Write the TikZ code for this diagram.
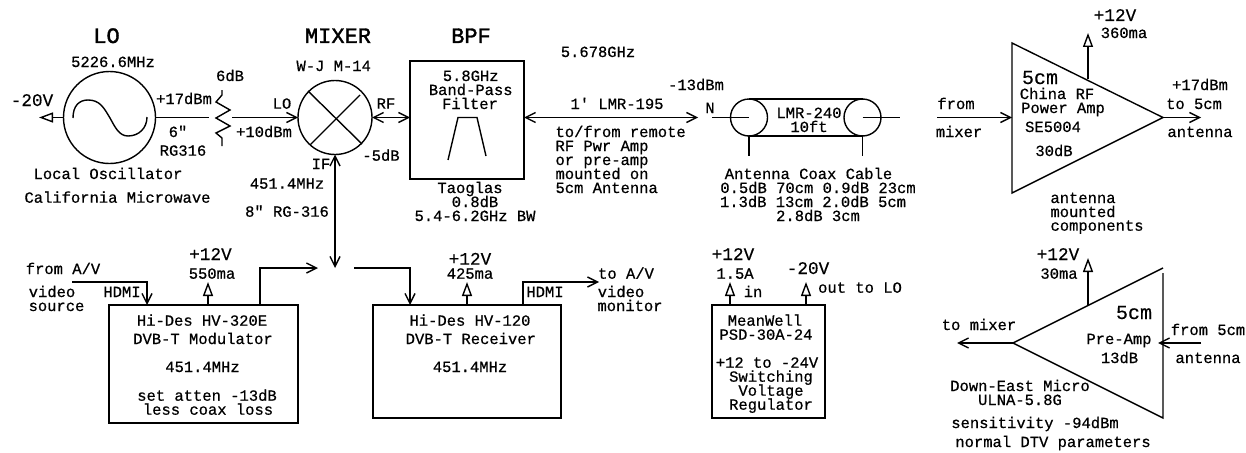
\documentclass[tikz,border=0pt]{standalone}
\usepackage{fontspec}
\usetikzlibrary{arrows.meta}
\newfontfamily\dia[FakeBold=0.6]{Liberation Mono}
\newfontfamily\diat[FakeBold=0.3]{Liberation Mono}
\newfontfamily\diab[FakeBold=1.5]{Liberation Mono}
\newcounter{tl}
\newcommand\lab[4][]{\stepcounter{tl}\node[txt,#1] (t\thetl) at (#2,#3) {#4};}
\tikzset{
  txt/.style={inner sep=0pt,outer sep=0pt,anchor=base,font=\dia\fontsize{15.5}{15.5}\selectfont},
  midtxt/.style={font=\diat\fontsize{17.7}{17.7}\selectfont},
  bigtxt/.style={font=\diat\fontsize{20}{20}\selectfont},
  headtxt/.style={font=\diab\fontsize{22}{22}\selectfont},
  lft/.style={anchor=base west},
  wire/.style={line width=1.4pt,black,line join=miter},
  circ/.style={circle,draw,line width=1.4pt,inner sep=0pt,outer sep=0pt},
  boxn/.style={rectangle,draw,line width=1.4pt,inner sep=0pt,outer sep=0pt},
  barb/.style={-{Straight Barb[length=10pt,width=10pt,line width=1.4pt]}},
  dbarb/.style={{Straight Barb[length=10pt,width=10pt,line width=1.4pt]}-{Straight Barb[length=10pt,width=10pt,line width=1.4pt]}},
  tri/.style={-{Triangle[open,length=14pt,width=10pt,line width=1.4pt]}}
}
\begin{document}
\begin{tikzpicture}[x=1pt,y=-1pt]
\useasboundingbox (0,0) rectangle (1246,452);
% blocks
\node[circ,minimum size=92pt] (lo) at (109.5,117.5) {};
\node[circ,minimum size=74pt] (mix) at (335,117.5) {};
\node[boxn,minimum width=114pt,minimum height=118pt] (bpf) at (467,120) {};
\node[circ,minimum size=37pt] (cl) at (749,117.5) {};
\node[circ,minimum size=37pt] (cr) at (862.5,117.5) {};
\node[boxn,minimum width=189pt,minimum height=118pt] (mod) at (203.5,364) {};
\node[boxn,minimum width=188pt,minimum height=113pt] (rx) at (467,361.5) {};
\node[boxn,minimum width=113pt,minimum height=113pt] (psu) at (768.5,361.5) {};
% free coordinates
\coordinate (lotip) at (39,117.5);
\coordinate (rl) at (209,117.5);
\coordinate (rr) at (232,117.5);
\coordinate (fwdend) at (698,117.5);
\coordinate (nend) at (712,117.5);
\coordinate (smaend) at (900,117.5);
\coordinate (clstub) at (749,156);
\coordinate (crstub) at (862.5,156);
\coordinate (ampin) at (937,117.5);
\coordinate (ampl) at (1012,117.5);
\coordinate (ampt) at (1012,43);
\coordinate (ampb) at (1012,193);
\coordinate (ampr) at (1163,117.5);
\coordinate (ampout) at (1201,117.5);
\coordinate (amppwrb) at (1088,79);
\coordinate (amppwr) at (1088,33);
\coordinate (prl) at (1013,343);
\coordinate (prt) at (1163,268);
\coordinate (prtv) at (1163,273);
\coordinate (prb) at (1163,418);
\coordinate (prout) at (957,343);
\coordinate (prin) at (1201,343);
\coordinate (prtip) at (1158,343);
\coordinate (prpwrb) at (1088,305);
\coordinate (prpwr) at (1088,258);
\coordinate (ifend) at (335,268);
\coordinate (modoutend) at (318,268);
\coordinate (rxinstart) at (354,268);
\coordinate (hdmis) at (72,282);
% resistor
\draw[wire] (222,90) -- (222,95) -- (216,102) -- (230,110) -- (216,118) -- (230,126) -- (216,133) -- (222,138) -- (222,146);
% sine
\draw[wire] (73,118) .. controls (73,106) and (79,100) .. (88,100) .. controls (100,100) and (104,108) .. (110,118) .. controls (115,127) and (119,136) .. (128,136) .. controls (139,136) and (147,128) .. (147,117);
% mixer cross
\draw[wire] (308,91) -- (362,144);
\draw[wire] (360,95) -- (310,145);
% filter curve
\draw[wire] (448,160) -- (458,117.5) -- (477,117.5) -- (486,156);
% connectors
\draw[wire,tri] (lo.west) -- (lotip);
\draw[wire] (lo.east) -- (rl);
\draw[wire,barb] (rr) -- (mix.west);
\draw[wire,dbarb] (mix.east) -- (bpf.west |- mix.east);
\draw[wire,dbarb] (bpf.east |- mix.east) -- (fwdend);
\draw[wire] (nend) -- (cl.center);
\draw[wire] (cl.south) -- (clstub);
\draw[wire] (cl.north) -- (cr.north);
\draw[wire] (cl.south) -- (cr.south);
\draw[wire] (cr.center) -- (smaend);
\draw[wire] (cr.south) -- (crstub);
% power amp
\draw[wire] (ampl) -- (ampt) -- (ampr) -- (ampb) -- cycle;
\draw[wire,barb] (ampin) -- (ampl);
\draw[wire,barb] (ampr) -- (ampout);
\draw[wire,tri] (amppwrb) -- (amppwr);
% pre amp
\draw[wire] (prt) -- (prl) -- (prb) -- (prtv);
\draw[wire,barb] (prl) -- (prout);
\draw[wire,barb] (prin) -- (prtip);
\draw[wire,tri] (prpwrb) -- (prpwr);
% IF
\draw[wire,dbarb] (mix.south) -- (ifend);
\draw[wire,barb] (mod.north -| 260,0) |- (modoutend);
\draw[wire,barb] (rxinstart) -| (rx.north -| 410,0);
\draw[wire,barb] (hdmis) -| (mod.north -| 147,0);
\draw[wire,tri] (mod.north -| 208,0) -- (208,282);
\draw[wire,tri] (rx.north -| 467,0) -- (467,282);
\draw[wire,barb] (rx.north -| 523,0) |- (599,282);
\draw[wire,tri] (psu.north -| 730,0) -- (730,282);
\draw[wire,tri] (psu.north -| 806,0) -- (806,282);
% labels
\lab[headtxt]{106.5}{43}{LO}
\lab[headtxt]{338}{43}{MIXER}
\lab[headtxt]{471}{43}{BPF}
\lab{113}{67}{5226.6MHz}
\lab{230}{81}{6dB}
\lab{333.7}{71}{W-J M-14}
\lab[midtxt]{32}{106}{-20V}
\lab{184}{104}{+17dBm}
\lab{282}{108.7}{LO}
\lab{386}{108.7}{RF}
\lab{178}{137}{6"}
\lab{183}{155.7}{RG316}
\lab{264}{137}{+10dBm}
\lab{381}{160.7}{-5dB}
\lab{321}{169}{IF}
\lab{287}{188.7}{451.4MHz}
\lab{108}{179}{Local Oscillator}
\lab{117.5}{202.7}{California Microwave}
\lab{287}{216.7}{8" RG-316}
\lab{598}{57}{5.678GHz}
\lab{470.7}{81}{5.8GHz}
\lab{470.7}{95}{Band-Pass}
\lab{470}{109}{Filter}
\lab{696}{90}{-13dBm}
\lab{617}{109}{1' LMR-195}
\lab{710}{113}{N}
\lab{809}{118}{LMR-240}
\lab{809}{132}{10ft}
\lab[lft]{555.5}{137}{to/from remote}
\lab[lft]{555.5}{151}{RF Pwr Amp}
\lab[lft]{555.5}{165}{or pre-amp}
\lab[lft]{555.5}{179}{mounted on}
\lab[lft]{555.5}{193}{5cm Antenna}
\lab{470}{193}{Taoglas}
\lab{475}{207}{0.8dB}
\lab{475}{221}{5.4-6.2GHz BW}
\lab{808.5}{179}{Antenna Coax Cable}
\lab{818}{193}{0.5dB 70cm 0.9dB 23cm}
\lab{813}{207}{1.3dB 13cm 2.0dB 5cm}
\lab{818}{221}{2.8dB 3cm}
\lab[midtxt]{1115}{21}{+12V}
\lab{1124}{38}{360ma}
\lab[bigtxt]{1040}{84}{5cm}
\lab{1057}{99}{China RF}
\lab{1063}{113}{Power Amp}
\lab{1053}{132}{SE5004}
\lab{1054}{156}{30dB}
\lab{956}{109}{from}
\lab{959}{137}{mixer}
\lab{1200}{90}{+17dBm}
\lab{1194}{109}{to 5cm}
\lab{1200}{137}{antenna}
\lab{1083}{203}{antenna}
\lab{1083}{217}{mounted}
\lab{1097}{230.7}{components}
\lab{63}{274}{from A/V}
\lab{52}{297}{video}
\lab{56.5}{311}{source}
\lab{122}{297}{HDMI}
\lab[midtxt]{210.5}{260}{+12V}
\lab{212}{278.7}{550ma}
\lab{202}{325.7}{Hi-Des HV-320E}
\lab{203}{344}{DVB-T Modulator}
\lab{202.5}{372}{451.4MHz}
\lab{207}{400.7}{set atten -13dB}
\lab{208}{414.7}{less coax loss}
\lab[midtxt]{470}{264.7}{+12V}
\lab{470}{278.7}{425ma}
\lab{626}{278.7}{to A/V}
\lab{621}{297}{video}
\lab{630}{311}{monitor}
\lab{545}{297}{HDMI}
\lab{470}{325.7}{Hi-Des HV-120}
\lab{470.8}{344}{DVB-T Receiver}
\lab{470}{372}{451.4MHz}
\lab[midtxt]{733}{260}{+12V}
\lab{735}{278.7}{1.5A}
\lab{753}{297}{in}
\lab[midtxt]{808}{274}{-20V}
\lab{860}{292.7}{out to LO}
\lab{765}{325.7}{MeanWell}
\lab{766}{339.7}{PSD-30A-24}
\lab{767}{367.7}{+12 to -24V}
\lab{771}{381.7}{Switching}
\lab{771}{395.7}{Voltage}
\lab{771}{409.7}{Regulator}
\lab[midtxt]{1058}{260}{+12V}
\lab{1059}{278.7}{30ma}
\lab[bigtxt]{1134}{319}{5cm}
\lab{979}{330}{to mixer}
\lab{1119}{344}{Pre-Amp}
\lab{1119.5}{363}{13dB}
\lab{1208}{335}{from 5cm}
\lab{1208}{363}{antenna}
\lab{1020}{391}{Down-East Micro}
\lab{1020}{405}{ULNA-5.8G}
\lab{1035}{428}{sensitivity -94dBm}
\lab{1053}{447}{normal DTV parameters}
\end{tikzpicture}
\end{document}
